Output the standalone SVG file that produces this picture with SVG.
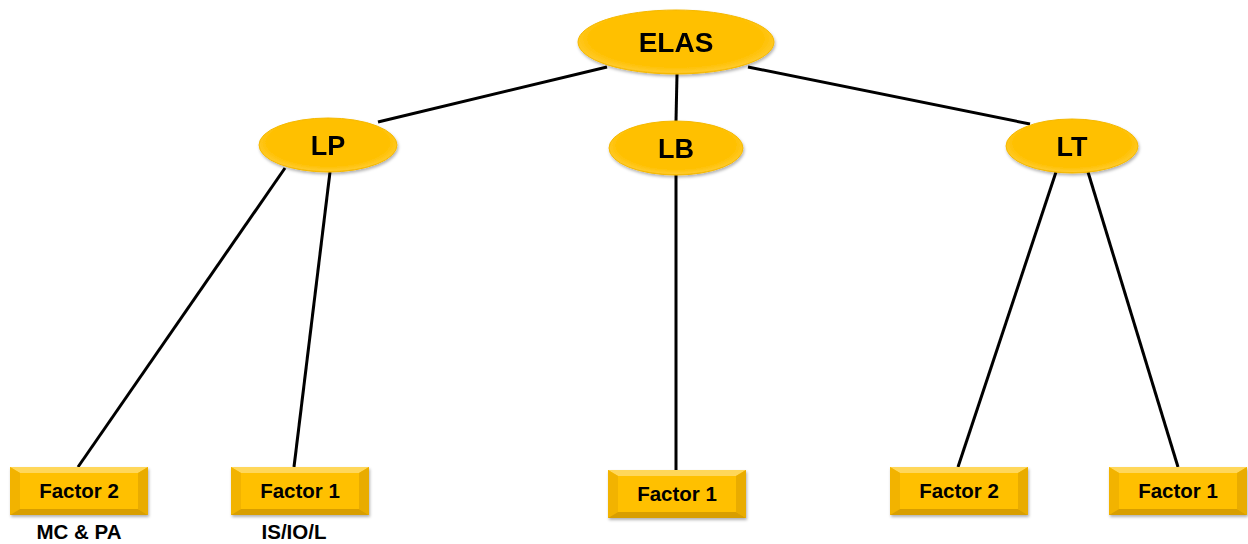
<svg xmlns="http://www.w3.org/2000/svg" width="1248" height="544" viewBox="0 0 1248 544">
<style>
.ln{stroke:#000;stroke-width:3;fill:none}
.ell{fill:url(#eg);stroke:#F5B800;stroke-width:1}
.t{font-family:"Liberation Sans",Arial,sans-serif;font-weight:bold;fill:#000;text-anchor:middle}
.big{font-size:28px}
.mid{font-size:27px}
.sm{font-size:20.5px}
.face{fill:#FFC000}
.bt{fill:#FFD75A}
.bl{fill:#F2B300}
.br{fill:#E9AC00}
.bb{fill:#D89E00}
</style>
<defs>
<radialGradient id="eg" cx="0.5" cy="0.45" r="0.55">
<stop offset="0.8" stop-color="#FFC000"/>
<stop offset="0.95" stop-color="#FFCA2A"/>
<stop offset="1" stop-color="#F7B700"/>
</radialGradient>
<filter id="sh" x="-10%" y="-10%" width="130%" height="140%">
<feDropShadow dx="1" dy="2" stdDeviation="1.5" flood-color="#000" flood-opacity="0.3"/>
</filter>
<g id="box">
<rect x="0" y="0" width="138" height="48" class="face"/>
<polygon points="0,0 138,0 128,6 10,6" class="bt"/>
<polygon points="0,0 10,6 10,42 0,48" class="bl"/>
<polygon points="138,0 138,48 128,42 128,6" class="br"/>
<polygon points="0,48 10,42 128,42 138,48" class="bb"/>
</g>
</defs>
<g id="connectors">
<line class="ln" x1="607" y1="67" x2="378" y2="122"/>
<line class="ln" x1="677" y1="74" x2="676" y2="121"/>
<line class="ln" x1="748" y1="67" x2="1030" y2="124"/>
<line class="ln" x1="285" y1="168" x2="78" y2="467"/>
<line class="ln" x1="330" y1="172" x2="294" y2="467"/>
<line class="ln" x1="676" y1="175" x2="676" y2="470"/>
<line class="ln" x1="1056" y1="172" x2="958" y2="467"/>
<line class="ln" x1="1088" y1="172" x2="1178" y2="467"/>
</g>
<g id="ELAS" filter="url(#sh)">
<ellipse class="ell" cx="676" cy="42" rx="98" ry="32"/>
<text class="t big" x="676" y="52">ELAS</text>
</g>
<g id="LP" filter="url(#sh)">
<ellipse class="ell" cx="328" cy="145" rx="69" ry="27"/>
<text class="t mid" x="328" y="155">LP</text>
</g>
<g id="LB" filter="url(#sh)">
<ellipse class="ell" cx="676" cy="148" rx="67" ry="27"/>
<text class="t mid" x="676" y="158">LB</text>
</g>
<g id="LT" filter="url(#sh)">
<ellipse class="ell" cx="1072" cy="146" rx="66" ry="27"/>
<text class="t mid" x="1072" y="156">LT</text>
</g>
<g id="LP_Factor2">
<use href="#box" x="10" y="467" filter="url(#sh)"/>
<text class="t sm" x="79" y="498">Factor 2</text>
<text class="t sm" x="79" y="539">MC &amp; PA</text>
</g>
<g id="LP_Factor1">
<use href="#box" x="231" y="467" filter="url(#sh)"/>
<text class="t sm" x="300" y="498">Factor 1</text>
<text class="t sm" x="294" y="539">IS/IO/L</text>
</g>
<g id="LB_Factor1">
<use href="#box" x="608" y="470" filter="url(#sh)"/>
<text class="t sm" x="677" y="501">Factor 1</text>
</g>
<g id="LT_Factor2">
<use href="#box" x="890" y="467" filter="url(#sh)"/>
<text class="t sm" x="959" y="498">Factor 2</text>
</g>
<g id="LT_Factor1">
<use href="#box" x="1109" y="467" filter="url(#sh)"/>
<text class="t sm" x="1178" y="498">Factor 1</text>
</g>
</svg>
